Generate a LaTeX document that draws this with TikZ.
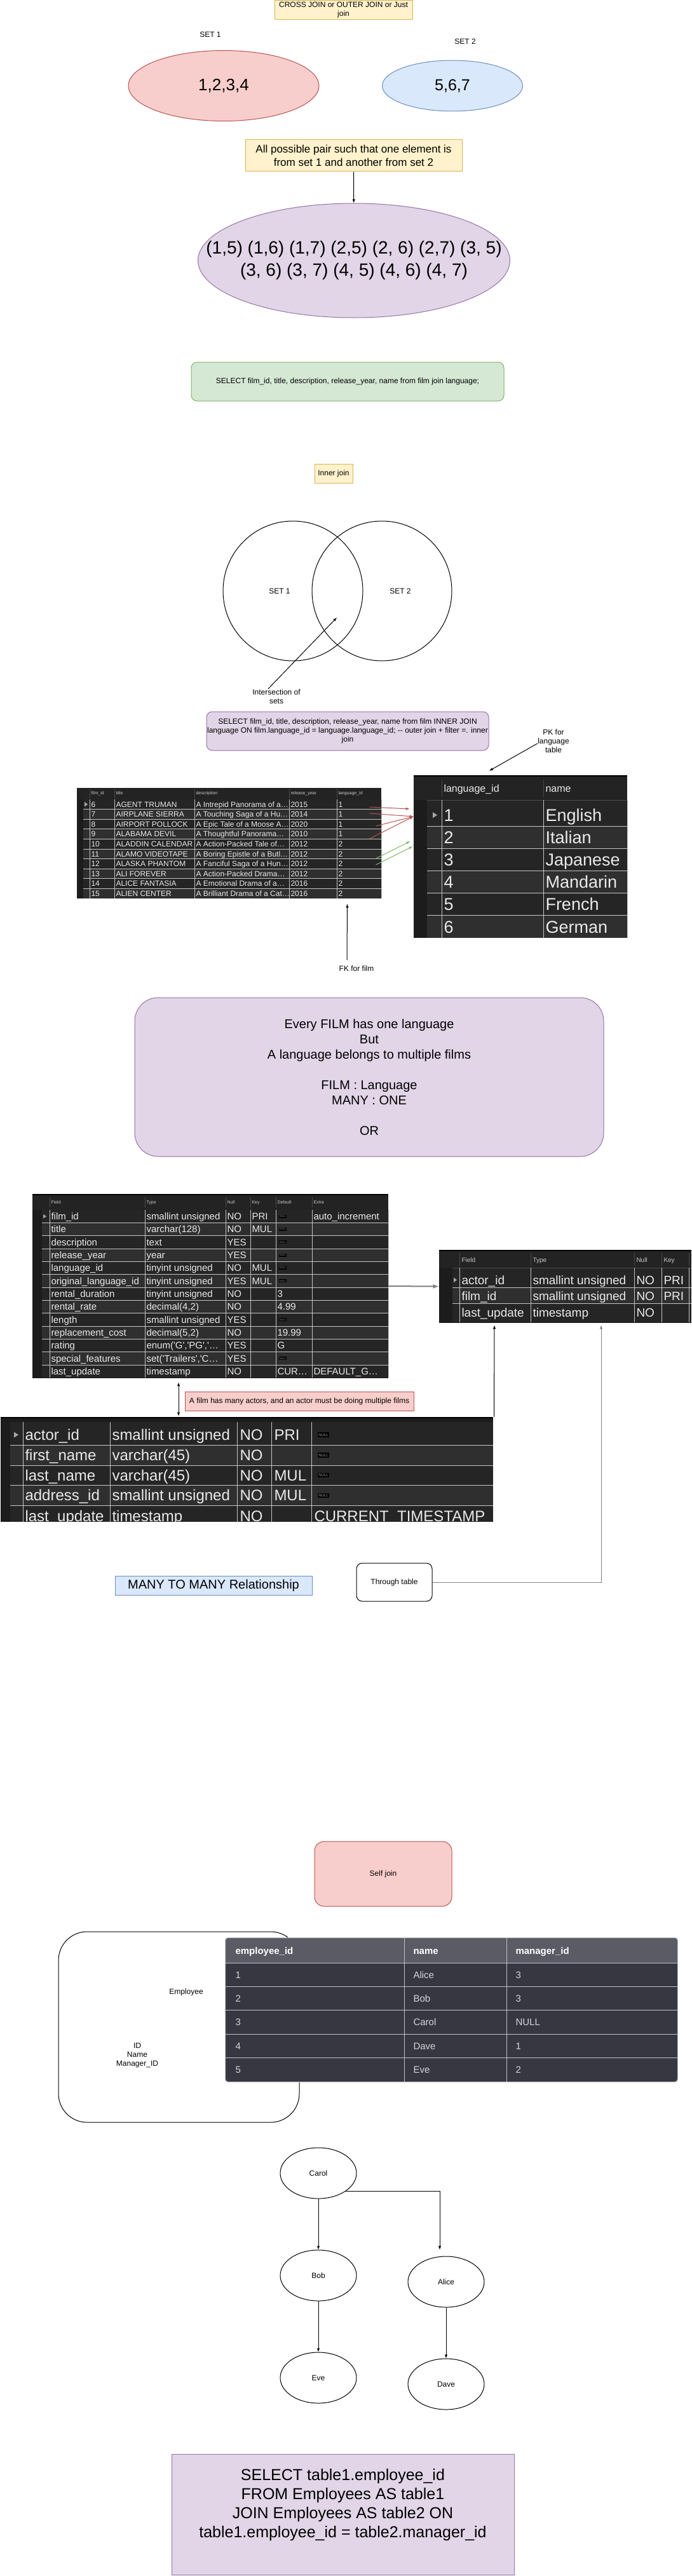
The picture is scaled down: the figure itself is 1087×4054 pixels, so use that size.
\documentclass[tikz,border=0pt]{standalone}
\usepackage{fontspec}
\setmainfont{Liberation Sans}
\usetikzlibrary{positioning}
\usetikzlibrary{shapes}
\usetikzlibrary{arrows}
\definecolor{gialloF}{HTML}{FFF2CC}\definecolor{gialloB}{HTML}{D6B656}
\definecolor{rossoF}{HTML}{F8CECC}\definecolor{rossoB}{HTML}{B85450}
\definecolor{bluF}{HTML}{DAE8FC}\definecolor{bluB}{HTML}{6C8EBF}
\definecolor{verdeF}{HTML}{D5E8D4}\definecolor{verdeB}{HTML}{82B366}
\definecolor{violaF}{HTML}{E1D5E7}\definecolor{violaB}{HTML}{9673A6}
\definecolor{scuro}{HTML}{1C1C1C}
\definecolor{testata}{HTML}{232323}
\definecolor{rigaA}{HTML}{252525}
\definecolor{rigaB}{HTML}{2F2F2F}
\definecolor{lineaT}{HTML}{C4C4C4}
\definecolor{sepH}{HTML}{4A4A4A}
\definecolor{testoT}{HTML}{EAEAEA}
\definecolor{testoH}{HTML}{C8C8C8}
\definecolor{empH}{HTML}{5B5B66}
\definecolor{empR}{HTML}{373741}
\definecolor{empG}{HTML}{C0C0C8}
\definecolor{empT}{HTML}{D4D4DA}
\definecolor{grigio}{HTML}{808080}
\newcommand{\fsz}[2]{\fontsize{#1}{#2}\selectfont}

\begin{document}
\begin{tikzpicture}[x=1pt,y=-1pt,line width=1pt,node distance=80pt,
every node/.style={font=\fsz{12}{14},inner sep=0pt},
nota/.style={draw=gialloB,fill=gialloF,align=center},
rosa/.style={draw=rossoB,fill=rossoF,align=center},
azzurro/.style={draw=bluB,fill=bluF,align=center},
verde/.style={draw=verdeB,fill=verdeF,align=center},
viola/.style={draw=violaB,fill=violaF,align=center},
ovale/.style={draw,ellipse},
cerchio/.style={draw,ellipse,minimum width=120,minimum height=80},
griglia/.style={draw=lineaT,line width=0.8pt},
separa/.style={draw=sepH,line width=0.8pt},
cella/.style={anchor=base west,text=testoT},
cellaF/.style={cella,font=\fsz{12}{14}},
cellaL/.style={cella,font=\fsz{27}{32}},
cellaS/.style={cella,font=\fsz{15}{18}},
cellaA/.style={cella,font=\fsz{19}{23}},
cellaB/.style={cella,font=\fsz{24}{29}},
cellaE/.style={anchor=base west,text=empT,font=\fsz{15}{18}},
intest/.style={anchor=base west,text=testoH},
nullo/.style={fill=black,text=gray!75,inner sep=1pt}
]
\fill[white] (0,0) rectangle (1087,4054);
%----
\node[nota,minimum width=217,minimum height=30] (tit) at (539.5,16) {CROSS JOIN or OUTER JOIN or Just\\join};
\node (s1) at (330,54) {SET 1};
\node (s2) at (731,65) {SET 2};
\node[ovale,draw=rossoB,fill=rossoF,minimum width=300,minimum height=111,font=\fsz{26}{31}] (a) at (351,135) {1,2,3,4};
\node[ovale,draw=bluB,fill=bluF,minimum width=221,minimum height=80,font=\fsz{25}{30}] (b) at (711,135) {5,6,7};
%--
\node[nota,minimum width=341,minimum height=50,font=\fsz{17}{21}] (c) at (555.5,245) {All possible pair such that one element is\\from set 1 and another from set 2};
\node[ovale,draw=violaB,fill=violaF,minimum width=491,minimum height=180] (d) at (556,410) {};
\node[font=\fsz{28}{35},align=center] (dT) at (d.center) {(1,5) (1,6) (1,7) (2,5) (2, 6) (2,7) (3, 5)\\(3, 6) (3, 7) (4, 5) (4, 6) (4, 7)};
\draw [-latex] (c) -- (d);
%----
\node[verde,rounded corners=9pt,minimum width=492,minimum height=61] (e) at (546,600.5) {SELECT film\_id, title, description, release\_year, name from film join language;};
\node[nota,minimum width=60,minimum height=30] (f) at (524,745) {Inner join};
%--
\node[draw,circle,minimum size=220] (v1) at (460,930) {};
\node[draw,circle,minimum size=220] (v2) at (600,930) {};
\node (v1T) at (439,930) {SET 1};
\node (v2T) at (629,930) {SET 2};
\node[align=center] (int) at (434,1096) {Intersection of\\sets};
\coordinate (xint) at (529,972);
\draw [-latex] ([xshift=-13pt]int.north) -- (xint);
%----
\node[viola,rounded corners=9pt,minimum width=444,minimum height=61] (g) at (546,1150.5) {SELECT film\_id, title, description, release\_year, name from film INNER JOIN\\language ON film.language\_id = language.language\_id; {-}{-} outer join + filter =. inner\\join};
\node[align=center] (pk) at (870,1166) {PK for\\language\\table};
\coordinate (pkx) at (769,1213);
\draw [-latex] ([yshift=-4pt]pk.west) -- (pkx);
%---- tabella film
\node[fill=scuro,minimum width=479,minimum height=174] (tf) at (359.5,1327) {};
\fill[testata] (120,1240) rectangle (599,1258);
\foreach \k in {0,2,4,6,8} \fill[rigaA] (130,{1258+15.6*\k}) rectangle (599,{1273.6+15.6*\k});
\foreach \k in {1,3,5,7,9} \fill[rigaB] (130,{1258+15.6*\k}) rectangle (599,{1273.6+15.6*\k});
\foreach \x in {140,179,305,454,529} \draw[separa] (\x,1242) -- (\x,1256);
\foreach \x in {140,179,305,454,529,599} \draw[griglia] (\x,1258) -- (\x,1414);
\foreach \k in {1,...,9} \draw[griglia] (130,{1258+15.6*\k}) -- (599,{1258+15.6*\k});
\fill[gray!70] (132,1262) -- (137,1265.8) -- (132,1269.6) -- cycle;
\foreach \x/\t [count=\j] in {142/film\_id,181/title,307/description,456/release\_year,531/language\_id}
  \node[intest,font=\fsz{7}{8}] (hf\j) at (\x,1250.2) {\t};
\foreach \a/\b/\c/\d/\e [count=\i from 0] in {
6/AGENT TRUMAN/A Intrepid Panorama of a…/2015/1,
7/AIRPLANE SIERRA/A Touching Saga of a Hu…/2014/1,
8/AIRPORT POLLOCK/A Epic Tale of a Moose A…/2020/1,
9/ALABAMA DEVIL/A Thoughtful Panorama…/2010/1,
10/ALADDIN CALENDAR/A Action-Packed Tale of…/2012/2,
11/ALAMO VIDEOTAPE/A Boring Epistle of a Butl…/2012/2,
12/ALASKA PHANTOM/A Fanciful Saga of a Hun…/2012/2,
13/ALI FOREVER/A Action-Packed Drama…/2012/2,
14/ALICE FANTASIA/A Emotional Drama of a…/2016/2,
15/ALIEN CENTER/A Brilliant Drama of a Cat…/2016/2}{
  \node[cellaF] (f\i-1) at (142,{1270.1+15.6*\i}) {\a};
  \node[cellaF] (f\i-2) at (181,{1270.1+15.6*\i}) {\b};
  \node[cellaF] (f\i-3) at (307,{1270.1+15.6*\i}) {\c};
  \node[cellaF] (f\i-4) at (456,{1270.1+15.6*\i}) {\d};
  \node[cellaF] (f\i-5) at (531,{1270.1+15.6*\i}) {\e};
}
%---- tabella language
\node[fill=scuro,minimum width=336,minimum height=256] (tl) at (818,1348) {};
\fill[testata] (650,1222) rectangle (986,1259);
\draw[black,line width=2pt] (650,1221) -- (986,1221);
\foreach \ya/\yb/\cc in {1259/1300.7/rigaA,1300.7/1335.7/rigaB,1335.7/1370.7/rigaA,1370.7/1405.7/rigaB,1405.7/1440.7/rigaA,1440.7/1476/rigaB}
  \fill[\cc] (671,\ya) rectangle (986,\yb);
\foreach \x in {694,854} \draw[separa] (\x,1228) -- (\x,1254);
\draw[separa] (671,1259) -- (986,1259);
\foreach \x in {694,854,986} \draw[griglia] (\x,1259) -- (\x,1476);
\foreach \y in {1300.7,1335.7,1370.7,1405.7,1440.7} \draw[griglia] (671,\y) -- (986,\y);
\fill[gray!70] (680,1278) -- (687,1282.7) -- (680,1287.4) -- cycle;
\node[intest,text=testoT,font=\fsz{16}{19}] (hl1) at (697,1246.5) {language\_id};
\node[intest,text=testoT,font=\fsz{16}{19}] (hl2) at (857,1246.5) {name};
\foreach \n/\t/\yc [count=\k from 0] in {1/English/1282.7,2/Italian/1317.6,3/Japanese/1352.8,4/Mandarin/1388,5/French/1423.2,6/German/1458.4}{
  \node[cellaL] (l\k-1) at (697,{\yc+9.7}) {\n};
  \node[cellaL] (l\k-2) at (857,{\yc+9.7}) {\t};
}
%--
\draw [-latex,rossoB] ([xshift=-19pt,yshift=57pt]tf.east) -- ([xshift=-6pt,yshift=75pt]tl.west);
\draw [-latex,rossoB] ([xshift=-19pt,yshift=47pt]tf.east) -- ([yshift=63pt]tl.west);
\draw [-latex,rossoB] ([xshift=-9pt,yshift=27pt]tf.east) -- ([yshift=63pt]tl.west);
\draw [-latex,rossoB] ([xshift=-19pt,yshift=7pt]tf.east) -- ([yshift=63pt]tl.west);
\draw [-latex,verdeB] ([xshift=-9pt,yshift=-24pt]tf.east) -- ([xshift=-5pt,yshift=24pt]tl.west);
\draw [-latex,verdeB] ([xshift=-9pt,yshift=-34pt]tf.east) -- ([xshift=-1pt,yshift=16pt]tl.west);
%--
\node (fk) at (560,1524) {FK for film};
\draw [-latex] ([xshift=-15pt,yshift=8pt]fk.north) -- ([xshift=-54pt,yshift=-8pt]tf.south east);
%----
\node[viola,rounded corners=37pt,minimum width=738,minimum height=250,font=\fsz{20}{24}] (h) at (580,1695) {Every FILM has one language\\But\\A language belongs to multiple films\\[24pt]FILM : Language\\MANY : ONE\\[24pt]OR};
%---- tabella schema film
\node[fill=scuro,minimum width=560,minimum height=290] (ts) at (330,2024) {};
\draw[black,line width=2pt] (50,1880) -- (610,1880);
\fill[testata] (50,1881) rectangle (610,1904);
\foreach \k in {0,2,...,12} \fill[rigaA] (65,{1904+20.33*\k}) rectangle (610,{1924.33+20.33*\k});
\foreach \k in {1,3,...,11} \fill[rigaB] (65,{1904+20.33*\k}) rectangle (610,{1924.33+20.33*\k});
\foreach \x in {77,227,354,393,433,490} \draw[separa] (\x,1884) -- (\x,1900);
\foreach \x in {77,227,354,393,433,490,610} \draw[griglia] (\x,1904) -- (\x,2168.3);
\foreach \k in {1,...,12} \draw[griglia] (65,{1904+20.33*\k}) -- (610,{1904+20.33*\k});
\fill[gray!70] (67,1911) -- (72,1914.2) -- (67,1917.4) -- cycle;
\foreach \x/\t [count=\j] in {79/Field,229/Type,356/Null,395/Key,435/Default,492/Extra}
  \node[intest,font=\fsz{7}{8}] (hs\j) at (\x,1894.2) {\t};
\foreach \a/\b/\c/\d/\e/\f [count=\i from 0] in {
film\_id/smallint unsigned/NO/PRI/{}/auto\_increment,
title/varchar(128)/NO/MUL/{}/{},
description/text/YES/{}/{}/{},
release\_year/year/YES/{}/{}/{},
language\_id/tinyint unsigned/NO/MUL/{}/{},
original\_language\_id/tinyint unsigned/YES/MUL/{}/{},
rental\_duration/tinyint unsigned/NO/{}/3/{},
rental\_rate/{decimal(4,2)}/NO/{}/4.99/{},
length/smallint unsigned/YES/{}/{}/{},
replacement\_cost/{decimal(5,2)}/NO/{}/19.99/{},
rating/{enum(\textquotesingle G\textquotesingle,\textquotesingle PG\textquotesingle,\textquotesingle{}…}/YES/{}/G/{},
special\_features/{set(\textquotesingle Trailers\textquotesingle,\textquotesingle C…}/YES/{}/{}/{},
last\_update/timestamp/NO/{}/CUR…/DEFAULT\_G…}{
  \node[cellaS] (s\i-1) at (79,{1919.6+20.33*\i}) {\a};
  \node[cellaS] (s\i-2) at (229,{1919.6+20.33*\i}) {\b};
  \node[cellaS] (s\i-3) at (356,{1919.6+20.33*\i}) {\c};
  \node[cellaS] (s\i-4) at (395,{1919.6+20.33*\i}) {\d};
  \node[cellaS] (s\i-5) at (435,{1919.6+20.33*\i}) {\e};
  \node[cellaS] (s\i-6) at (492,{1919.6+20.33*\i}) {\f};
}
\foreach \i in {0,1,2,3,4,5,8,11}
  \node[nullo,font=\fsz{4}{5}] (sn\i) at (444,{1914.2+20.33*\i}) {NULL};
%---- tabella film_actor
\node[fill=scuro,minimum width=397,minimum height=115] (tfa) at (888.5,2024.5) {};
\draw[black,line width=2pt] (690,1968) -- (1087,1968);
\fill[testata] (690,1969) rectangle (1087,1995);
\fill[rigaA] (711,1995) rectangle (1087,2026);
\fill[rigaB] (711,2026) rectangle (1087,2051.7);
\fill[rigaA] (711,2051.7) rectangle (1087,2081);
\foreach \x in {722,834,997,1040,1083} \draw[separa] (\x,1972) -- (\x,1992);
\draw[separa] (711,1995) -- (1087,1995);
\foreach \x in {722,834,997,1040,1083} \draw[griglia] (\x,1995) -- (\x,2081);
\foreach \y in {2026,2051.7} \draw[griglia] (711,\y) -- (1087,\y);
\fill[gray!70] (713,2010.5) -- (718,2014.3) -- (713,2018.1) -- cycle;
\foreach \x/\t [count=\j] in {725/Field,837/Type,1000/Null,1043/Key}
  \node[intest,font=\fsz{10}{12}] (hfa\j) at (\x,1986) {\t};
\foreach \a/\b/\c/\d/\yb [count=\i from 0] in {actor\_id/smallint unsigned/NO/PRI/2021.1,film\_id/smallint unsigned/NO/PRI/2046.1,last\_update/timestamp/NO/{}/2072.8}{
  \node[cellaA] (fa\i-1) at (725,\yb) {\a};
  \node[cellaA] (fa\i-2) at (837,\yb) {\b};
  \node[cellaA] (fa\i-3) at (1000,\yb) {\c};
  \node[cellaA] (fa\i-4) at (1043,\yb) {\d};
}
\draw [-latex,grigio,line width=2pt] (ts.east) -- (tfa.west);
%---- tabella actor
\node[fill=scuro,minimum width=775,minimum height=165] (ta) at (387.5,2312.5) {};
\draw[black,line width=2pt] (0,2231) -- (775,2231);
\begin{scope}
\clip (0,2230) rectangle (775,2395);
\foreach \ya/\yb/\cc in {2238/2274/rigaA,2274/2306/rigaB,2306/2337.5/rigaA,2337.5/2369/rigaB,2369/2395/rigaA}
  \fill[\cc] (15,\ya) rectangle (775,\yb);
\foreach \x in {35,172,372,426,489} \draw[griglia] (\x,2238) -- (\x,2395);
\foreach \y in {2274,2306,2337.5,2369} \draw[griglia] (15,\y) -- (775,\y);
\fill[gray!70] (21,2253.5) -- (28,2258) -- (21,2262.5) -- cycle;
\foreach \a/\b/\c/\d/\yc [count=\i from 0] in {actor\_id/smallint unsigned/NO/PRI/2258,first\_name/varchar(45)/NO/{}/2290,last\_name/varchar(45)/NO/MUL/2321.7,address\_id/smallint unsigned/NO/MUL/2353.3,last\_update/timestamp/NO/{}/2385.4}{
  \node[cellaB] (a\i-1) at (38,{\yc+8.6}) {\a};
  \node[cellaB] (a\i-2) at (175,{\yc+8.6}) {\b};
  \node[cellaB] (a\i-3) at (376,{\yc+8.6}) {\c};
  \node[cellaB] (a\i-4) at (430,{\yc+8.6}) {\d};
}
\node[cellaB] (a4-5) at (493,2394) {CURRENT\_TIMESTAMP};
\foreach \yc [count=\i from 0] in {2258,2290,2321.7,2353.3}
  \node[nullo,font=\fsz{6}{7},inner sep=1.5pt] (an\i) at (508,\yc) {NULL};
\end{scope}
%--
\draw [latex-latex] ([xshift=-50pt,yshift=-6pt]ts.south) -- ([xshift=-107.5pt,yshift=1pt]ta.north);
\node[rosa,minimum width=360,minimum height=30] (n1) at (470,2205) {A film has many actors, and an actor must be doing multiple films};
\draw [-latex] ([xshift=1pt]ta.north east) -- ([xshift=-111.5pt,yshift=-3pt]tfa.south);
%--
\node[azzurro,minimum width=310,minimum height=30,font=\fsz{20}{24}] (mm) at (335,2495) {MANY TO MANY Relationship};
\node[draw,fill=white,rounded corners=9pt,minimum width=119,minimum height=60] (tt) at (619.5,2490) {Through table};
\draw [-latex,grigio] (tt.east) -| ([xshift=56.5pt,yshift=-3pt]tfa.south);
%---- self join
\node[rosa,rounded corners=15pt,minimum width=216,minimum height=102] (sj) at (602,2949) {Self join};
\node[draw,fill=white,rounded corners=45pt,minimum width=379,minimum height=300] (emp) at (280.5,3190) {};
\node (empA) at (292,3135) {Employee};
\node[align=center] (empB) at (215,3235) {ID\\Name\\Manager\_ID};
%--
\node[fill=empR,rounded corners=4pt,minimum width=711,minimum height=226] (te) at (709.5,3163) {};
\begin{scope}
\clip[rounded corners=4pt] (354,3050) rectangle (1065,3276);
\fill[empH] (354,3050) rectangle (1065,3089);
\end{scope}
\foreach \y in {3089,3126.4,3163.8,3201.2,3238.6} \draw[empG] (354,\y) -- (1065,\y);
\foreach \x in {635,796} \draw[empG] (\x,3050) -- (\x,3276);
\draw[empG,rounded corners=4pt] (te.north west) rectangle (te.south east);
\foreach \x/\t [count=\j] in {369/employee\_id,649/name,810/manager\_id}
  \node[anchor=base west,text=white,font=\bfseries\fsz{15}{18}] (he\j) at (\x,3075.4) {\t};
\foreach \a/\b/\c [count=\k from 0] in {1/Alice/3,2/Bob/3,3/Carol/NULL,4/Dave/1,5/Eve/2}{
  \node[cellaE] (e\k-1) at (369,{3113.1+37.4*\k}) {\a};
  \node[cellaE] (e\k-2) at (649,{3113.1+37.4*\k}) {\b};
  \node[cellaE] (e\k-3) at (810,{3113.1+37.4*\k}) {\c};
}
%---- albero
\node[cerchio] (carol) at (500,3420) {Carol};
\node[cerchio,below = of carol] (bob) {Bob};
\node[cerchio,below = of bob] (eve) {Eve};
\node[cerchio,right = of bob,yshift=-10pt] (alice) {Alice};
\node[cerchio,below = of alice] (dave) {Dave};
\draw [-latex] (carol) -- (bob);
\draw [-latex] (bob) -- (eve);
\draw [-latex] (alice) -- (dave);
\coordinate (pa) at ([xshift=-10pt,yshift=10pt]alice.north);
\draw [-latex] (carol.-33) -| (pa);
%----
\node[viola,minimum width=539,minimum height=190] (sql) at (538.5,3957) {};
\node[font=\fsz{25}{30},align=center] (sqlT) at ([yshift=15pt]sql.center) {SELECT table1.employee\_id\\FROM Employees AS table1\\JOIN Employees AS table2 ON\\table1.employee\_id = table2.manager\_id};
\end{tikzpicture}
\end{document}
